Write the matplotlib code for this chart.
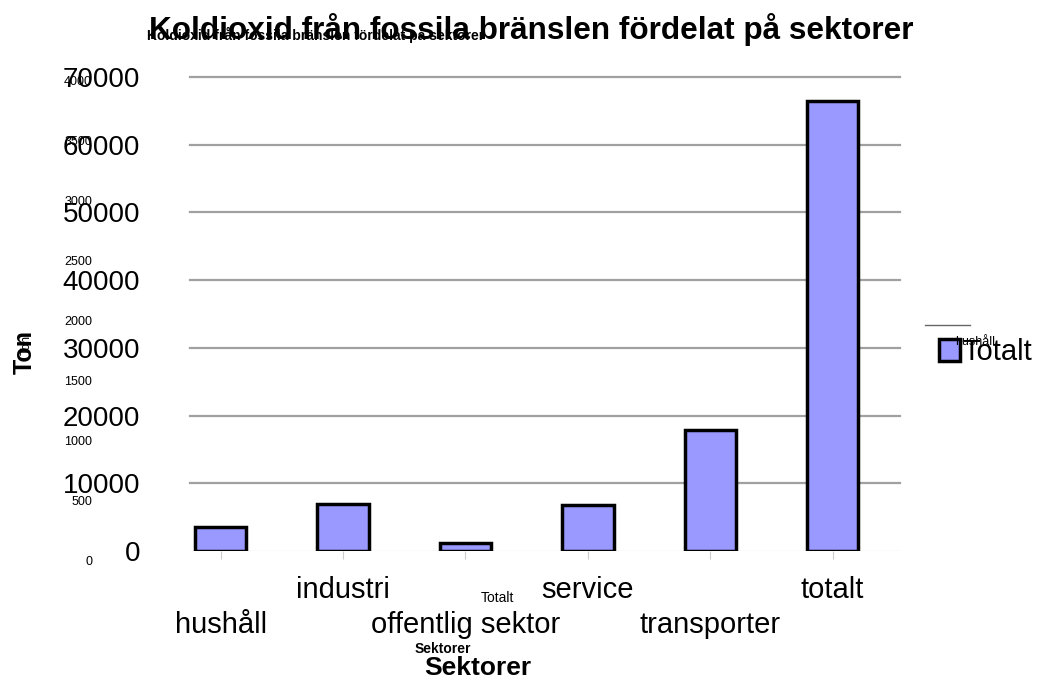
import numpy as np
import matplotlib.pyplot as plt

plt.rcParams['font.family'] = ['Liberation Sans', 'DejaVu Sans']

# Data
sektorer = ['hushåll', 'industri', 'offentlig sektor', 'service', 'transporter', 'totalt']
ton = [3550, 6950, 1200, 6850, 17900, 66500]
y_ticks = [0, 10000, 20000, 30000, 40000, 50000, 60000, 70000]
ghost_ticks = ['0', '500', '1000', '1500', '2000', '2500', '3000', '3500', '4000']

W, H = 1044, 680
fig = plt.figure(figsize=(W / 100, H / 100), dpi=100)
ax = fig.add_axes([190 / W, 1 - 551 / H, 710 / W, (551 - 77) / H])

x = np.arange(len(sektorer))
ax.bar(x, ton, width=0.42, color='#9999FF', edgecolor='black', linewidth=2.5,
       label='Totalt', zorder=3)

ax.set_xlim(-0.25, 5.55)
ax.set_ylim(0, 70000)
ax.set_yticks(y_ticks)
ax.set_yticklabels([str(v) for v in y_ticks], fontsize=20)
ax.tick_params(axis='y', length=0, pad=36)
for v in y_ticks[1:]:
    ax.axhline(v, color='#a0a0a0', linewidth=1.6, zorder=1, clip_on=False)
ax.axhline(0, color='#e6e6e6', linewidth=1, zorder=1)

# staggered category labels
labels = [s if i % 2 else '\n' + s for i, s in enumerate(sektorer)]
ax.set_xticks(x)
ax.set_xticklabels(labels, fontsize=21, linespacing=1.3)
ax.tick_params(axis='x', length=6, color='#cccccc', pad=12)

for sp in ax.spines.values():
    sp.set_visible(False)

ax.set_ylabel('Ton', fontsize=18, fontweight='bold', labelpad=0)
ax.yaxis.set_label_coords(-153 / 710, 0.42)

# titel
fig.text(531 / W, 1 - 30 / H, 'Koldioxid från fossila bränslen fördelat på sektorer',
         fontsize=22.7, fontweight='bold', ha='center', va='center')
fig.text(147 / W, 1 - 35 / H, 'Koldioxid från fossila bränslen fördelat på sektorer',
         fontsize=10, fontweight='bold', ha='left', va='center')

# legend
leg = ax.legend(loc='center left', bbox_to_anchor=(924 / W, 1 - 352 / H),
                bbox_transform=fig.transFigure, frameon=False, fontsize=21,
                handlelength=0.75, handleheight=0.75, handletextpad=0.05,
                borderpad=0)
fig.add_artist(plt.Line2D([925 / W, 970 / W], [1 - 325 / H, 1 - 325 / H],
                          color='#666666', linewidth=1))
fig.text(975 / W, 1 - 342 / H, 'hushåll', fontsize=9, ha='center', va='center')

# svaga extra texter
for i, t in enumerate(ghost_ticks):
    fig.text(92 / W, 1 - (562 - 60 * i) / H, t, fontsize=9, ha='right', va='center')
fig.text(27 / W, 1 - 345 / H, 'Ton', fontsize=9, rotation=90, ha='center', va='center')
fig.text(497 / W, 1 - 598 / H, 'Totalt', fontsize=10, ha='center', va='center')
fig.text(443 / W, 1 - 649 / H, 'Sektorer', fontsize=10, fontweight='bold',
         ha='center', va='center')
fig.text(478 / W, 1 - 668 / H, 'Sektorer', fontsize=19, fontweight='bold',
         ha='center', va='center')

fig.savefig('out.png', dpi=100, facecolor='white')
